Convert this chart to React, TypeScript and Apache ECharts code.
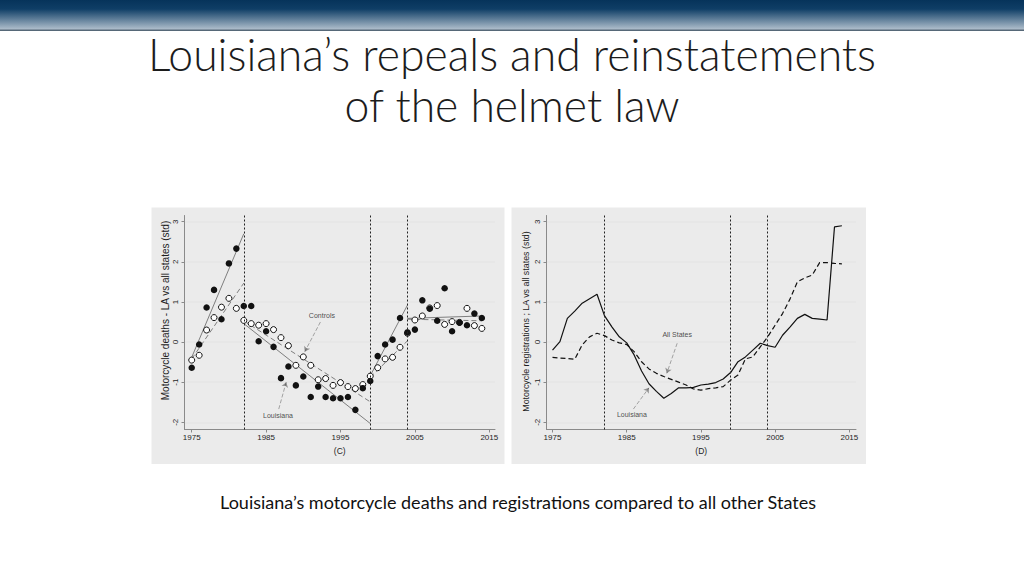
import React, { useEffect, useRef } from "react";
import * as echarts from "echarts";

// ---------- data ----------
const YEARS = [
  1975, 1976, 1977, 1978, 1979, 1980, 1981, 1982, 1983, 1984,
  1985, 1986, 1987, 1988, 1989, 1990, 1991, 1992, 1993, 1994,
  1995, 1996, 1997, 1998, 1999, 2000, 2001, 2002, 2003, 2004,
  2005, 2006, 2007, 2008, 2009, 2010, 2011, 2012, 2013, 2014,
];
const X_TICKS = [1975, 1985, 1995, 2005, 2015];
const Y_TICKS = [-2, -1, 0, 1, 2, 3];
const LAW_CHANGES = [1982, 1999, 2004];

// Panel C: motorcycle deaths (std)
const LA_DEATHS = [
  -0.64, -0.06, 0.86, 1.3, 0.57, 1.96, 2.33, 0.9, 0.9, 0.02,
  0.27, -0.12, -0.9, -0.61, -1.08, -0.86, -1.37, -1.11, -1.37, -1.4,
  -1.4, -1.37, -1.69, -1.15, -0.97, -0.35, -0.06, 0.06, 0.6, 0.24,
  0.31, 1.04, 0.83, 0.53, 1.34, 0.27, 0.48, 0.42, 0.71, 0.6,
];
const CONTROL_DEATHS = [
  -0.45, -0.33, 0.3, 0.61, 0.87, 1.09, 0.84, 0.54, 0.46, 0.42,
  0.46, 0.31, 0.11, -0.09, -0.58, -0.37, -0.58, -0.94, -0.91, -1.08,
  -1.01, -1.11, -1.16, -1.06, -0.85, -0.64, -0.42, -0.38, -0.13, 0.22,
  0.55, 0.65, 0.85, 0.91, 0.44, 0.51, 0.49, 0.84, 0.41, 0.34,
];
// fitted segments: [x1, y1, x2, y2]
const LA_FIT = [
  [1975, -0.38, 1982, 2.7],
  [1982, 0.46, 1999, -2.03],
  [1999, -0.84, 2004, 0.92],
  [2004, 0.59, 2014, 0.65],
];
const CONTROL_FIT = [
  [1975, -0.42, 1982, 1.47],
  [1982, 0.53, 1999, -1.49],
  [1999, -0.88, 2004, 0.03],
  [2004, 0.57, 2014, 0.53],
];

// Panel D: motorcycle registrations (std)
const LA_REGISTRATIONS = [
  -0.2, 0.01, 0.59, 0.77, 0.97, 1.08, 1.19, 0.66, 0.38, 0.13,
  -0.02, -0.32, -0.72, -1.04, -1.23, -1.4, -1.28, -1.14, -1.14, -1.13,
  -1.07, -1.05, -1.01, -0.92, -0.76, -0.49, -0.37, -0.2, -0.03, -0.09,
  -0.13, 0.17, 0.37, 0.59, 0.69, 0.59, 0.57, 0.55, 2.87, 2.9,
];
const ALL_STATES_REGISTRATIONS = [
  -0.38, -0.4, -0.41, -0.43, -0.07, 0.13, 0.22, 0.16, 0.05, -0.02,
  -0.06, -0.24, -0.49, -0.67, -0.78, -0.86, -0.93, -1.0, -1.07, -1.17,
  -1.2, -1.16, -1.14, -1.11, -0.95, -0.82, -0.42, -0.37, -0.12, 0.13,
  0.42, 0.71, 1.07, 1.5, 1.6, 1.67, 1.98, 1.98, 1.96, 1.95,
];

// annotations: label [x, y], arrow [x1, y1, x2, y2]
const C_LABELS = [
  { name: "Controls", at: [1992.5, 0.65] },
  { name: "Louisiana", at: [1986.6, -1.83] },
];
const C_ARROWS = [
  [1992.3, 0.5, 1990.2, -0.24],
  [1986.7, -1.67, 1987.7, -1.0],
];
const D_LABELS = [
  { name: "All States", at: [1991.8, 0.19] },
  { name: "Louisiana", at: [1985.7, -1.8] },
];
const D_ARROWS = [
  [1991.8, -0.03, 1990.4, -0.78],
  [1985.9, -1.67, 1988.0, -1.14],
];

const TITLE = "Louisiana\u2019s repeals and reinstatements\nof the helmet law";
const SUBTITLE =
  "Louisiana\u2019s motorcycle deaths and registrations compared to all other States";

// ---------- helpers ----------
const FONT = "'Liberation Sans', Arial, Helvetica, sans-serif";
const TITLE_FONT = "Lato, 'Open Sans', sans-serif";
const INK = "#1e1e1e";
const AXIS_GREY = "#8a8a8a";

const zip = (xs: number[], ys: number[]) => xs.map((x, i) => [x, ys[i]]);
const segs = (list: number[][]) =>
  list.map((s) => ({ coords: [[s[0], s[1]], [s[2], s[3]]] }));

function xAxis(gridIndex: number, name: string, min: number, max: number) {
  return {
    type: "value",
    gridIndex,
    min,
    max,
    name,
    nameLocation: "middle",
    nameGap: 17,
    nameTextStyle: { fontSize: 8.5, color: INK, fontFamily: FONT },
    axisLine: { show: true, onZero: false, lineStyle: { color: AXIS_GREY, width: 1 } },
    axisTick: { show: true, length: 3, customValues: X_TICKS, lineStyle: { color: AXIS_GREY } },
    axisLabel: {
      customValues: X_TICKS,
      formatter: (v: number) => String(v),
      fontSize: 8,
      color: INK,
      margin: 4,
      fontFamily: FONT,
    },
    splitLine: { show: false },
  };
}

function yAxis(gridIndex: number, name: string, gap: number, nameSize: number, namePadding: number[]) {
  return {
    type: "value",
    gridIndex,
    min: -2.18,
    max: 3.155,
    name,
    nameLocation: "middle",
    nameRotate: 90,
    nameGap: gap,
    nameTextStyle: { fontSize: nameSize, color: INK, fontFamily: FONT, padding: namePadding },
    axisLine: { show: true, onZero: false, lineStyle: { color: AXIS_GREY, width: 1 } },
    axisTick: { show: true, length: 3, customValues: Y_TICKS, lineStyle: { color: AXIS_GREY } },
    axisLabel: {
      customValues: Y_TICKS,
      formatter: (v: number) => String(v),
      rotate: 90,
      fontSize: 8,
      color: INK,
      margin: 5,
      fontFamily: FONT,
    },
    splitLine: { show: true, lineStyle: { color: "#e6e6e6", width: 1.5 } },
  };
}

function lawLines(idx: number) {
  return {
    type: "line",
    xAxisIndex: idx,
    yAxisIndex: idx,
    data: [],
    silent: true,
    markLine: {
      silent: true,
      symbol: ["none", "none"],
      label: { show: false },
      lineStyle: { color: "#222", width: 1, type: [2, 2] },
      data: LAW_CHANGES.map((x) => ({ xAxis: x })),
    },
  };
}

function labels(idx: number, list: { name: string; at: number[] }[]) {
  return {
    type: "scatter",
    xAxisIndex: idx,
    yAxisIndex: idx,
    symbolSize: 0,
    silent: true,
    z: 5,
    itemStyle: { color: "#222" },
    data: list.map((l) => ({ name: l.name, value: l.at })),
    label: {
      show: true,
      position: [0, 0],
      align: "center",
      verticalAlign: "middle",
      formatter: "{b}",
      fontSize: 7,
      color: "#222222",
      textBorderWidth: 0,
      fontFamily: FONT,
    },
  };
}

function arrows(idx: number, list: number[][]) {
  return {
    type: "lines",
    coordinateSystem: "cartesian2d",
    xAxisIndex: idx,
    yAxisIndex: idx,
    symbol: ["none", "arrow"],
    symbolSize: 5,
    silent: true,
    lineStyle: { color: "#333", width: 0.8, type: [4, 2] },
    data: segs(list),
  };
}

function buildOption() {
  return {
    animation: false,
    backgroundColor: "#ffffff",
    textStyle: { fontFamily: FONT },
    graphic: [
      {
        type: "rect",
        shape: { x: 0, y: 0, width: 1024, height: 30 },
        style: {
          fill: new echarts.graphic.LinearGradient(0, 0, 0, 1, [
            { offset: 0, color: "#06335a" },
            { offset: 0.3, color: "#0f3e66" },
            { offset: 1, color: "#b4c2cf" },
          ]),
        },
      },
      { type: "rect", shape: { x: 0, y: 29.5, width: 1024, height: 1.5 }, style: { fill: "#566878" } },
      {
        type: "text",
        x: 512,
        y: 28,
        style: {
          text: TITLE,
          fontFamily: TITLE_FONT,
          fontWeight: 300,
          fontSize: 44.5,
          lineHeight: 51,
          fill: "#1c1c1c",
          align: "center",
          verticalAlign: "top",
        },
      },
      {
        type: "text",
        x: 518,
        y: 502,
        style: {
          text: SUBTITLE,
          fontFamily: TITLE_FONT,
          fontSize: 18,
          fill: "#111111",
          align: "center",
          verticalAlign: "middle",
        },
      },
      { type: "rect", shape: { x: 151.5, y: 207.5, width: 353, height: 256.5 }, style: { fill: "#ebebeb" } },
      { type: "rect", shape: { x: 511.5, y: 207.5, width: 354.5, height: 256.5 }, style: { fill: "#ebebeb" } },
    ],
    grid: [
      { left: 184.5, top: 215.5, width: 310.5, height: 214, show: true, backgroundColor: "#ffffff", borderWidth: 0, containLabel: false },
      { left: 546.5, top: 215.5, width: 309.5, height: 214, show: true, backgroundColor: "#ffffff", borderWidth: 0, containLabel: false },
    ],
    xAxis: [xAxis(0, "(C)", 1974.03, 2015.77), xAxis(1, "(D)", 1974.19, 2015.9)],
    yAxis: [
      yAxis(0, "Motorcycle deaths - LA vs all states (std)", 14, 10, [0, 0, 0, 24]),
      yAxis(1, "Motorcycle registrations ; LA vs all states (std)", 16.5, 8.9, [0, 0, 0, 2]),
    ],
    series: [
      lawLines(0),
      lawLines(1),
      {
        type: "lines",
        coordinateSystem: "cartesian2d",
        xAxisIndex: 0,
        yAxisIndex: 0,
        silent: true,
        lineStyle: { color: "#111", width: 1, type: "solid" },
        data: segs(LA_FIT),
      },
      {
        type: "lines",
        coordinateSystem: "cartesian2d",
        xAxisIndex: 0,
        yAxisIndex: 0,
        silent: true,
        lineStyle: { color: "#111", width: 1, type: [5, 3] },
        data: segs(CONTROL_FIT),
      },
      {
        name: "Controls",
        type: "scatter",
        xAxisIndex: 0,
        yAxisIndex: 0,
        symbol: "circle",
        symbolSize: 6,
        itemStyle: { color: "#ffffff", borderColor: "#111", borderWidth: 1, opacity: 1 },
        data: zip(YEARS, CONTROL_DEATHS),
        z: 3,
      },
      {
        name: "Louisiana",
        type: "scatter",
        xAxisIndex: 0,
        yAxisIndex: 0,
        symbol: "circle",
        symbolSize: 6.5,
        itemStyle: { color: "#111", opacity: 1 },
        data: zip(YEARS, LA_DEATHS),
        z: 4,
      },
      {
        name: "Louisiana registrations",
        type: "line",
        xAxisIndex: 1,
        yAxisIndex: 1,
        showSymbol: false,
        symbol: "none",
        lineStyle: { color: "#111", width: 1.2, type: "solid" },
        data: zip(YEARS, LA_REGISTRATIONS),
      },
      {
        name: "All States registrations",
        type: "line",
        xAxisIndex: 1,
        yAxisIndex: 1,
        showSymbol: false,
        symbol: "none",
        lineStyle: { color: "#111", width: 1.2, type: [5, 3] },
        data: zip(YEARS, ALL_STATES_REGISTRATIONS),
      },
      arrows(0, C_ARROWS),
      arrows(1, D_ARROWS),
      labels(0, C_LABELS),
      labels(1, D_LABELS),
    ],
  };
}

export default function App() {
  const ref = useRef<HTMLDivElement>(null);
  useEffect(() => {
    document.body.style.margin = "0";
    const chart = echarts.init(ref.current as HTMLDivElement, null, { renderer: "svg" });
    chart.setOption(buildOption() as any);
    return () => chart.dispose();
  }, []);
  return <div ref={ref} style={{ width: 1024, height: 576 }} />;
}
